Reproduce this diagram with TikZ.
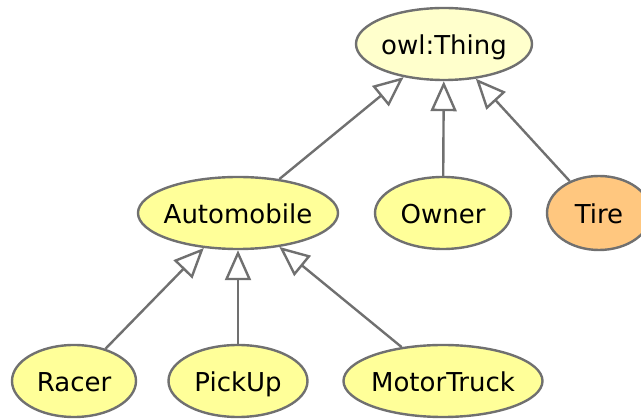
\documentclass[tikz,border=0pt]{standalone}
\usepackage{fontspec}
\setmainfont{DejaVu Sans}
\usetikzlibrary{shapes.geometric,arrows.meta}
\definecolor{edgegray}{HTML}{707070}
\definecolor{classfill}{HTML}{FFFF99}
\definecolor{rootfill}{HTML}{FFFFCC}
\definecolor{tirefill}{HTML}{FFC77F}
\tikzset{
  cls/.style={ellipse, draw=edgegray, line width=2.4pt, fill=classfill,
    inner xsep=-12pt, inner ysep=0pt, text height=21pt, text depth=0pt,
    font=\fontsize{26}{30}\selectfont},
  isa/.style={draw=edgegray, line width=2.4pt,
    -{Triangle[open, length=30pt, width=26pt, fill=white]}},
}
\begin{document}
\begin{tikzpicture}[x=1pt, y=-1pt]
\useasboundingbox (0,0) rectangle (641,419);
\clip (0,0) rectangle (641,419);
% class hierarchy nodes
\node[cls, fill=rootfill, minimum width=176pt, minimum height=72pt] (thing) at (444,44) {owl:Thing};
\node[cls, minimum width=200pt, minimum height=72pt] (auto) at (238,213) {Automobile};
\node[cls, minimum width=136pt, minimum height=72pt] (owner) at (443,213) {Owner};
\node[cls, fill=tirefill, minimum width=104pt, minimum height=74pt] (tire) at (599,213) {Tire};
\node[cls, minimum width=124pt, minimum height=72pt] (racer) at (74,381) {Racer};
\node[cls, minimum width=139pt, minimum height=72pt] (pickup) at (238,381) {PickUp};
\node[cls, minimum width=199pt, minimum height=72pt] (truck) at (443,381) {MotorTruck};
% subclass edges
\draw[isa] (auto) -- (thing);
\draw[isa] (owner) -- (thing);
\draw[isa] (tire) -- (thing);
\draw[isa] (racer) -- (auto);
\draw[isa] (pickup) -- (auto);
\draw[isa] (truck) -- (auto);
\end{tikzpicture}
\end{document}
